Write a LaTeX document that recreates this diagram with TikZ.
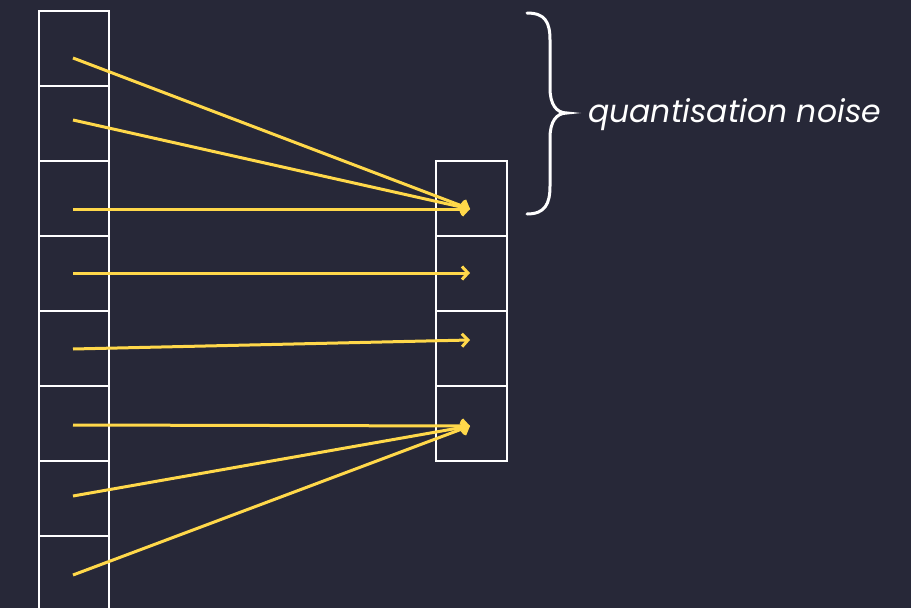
\documentclass[tikz,border=0pt]{standalone}
\usepackage{fontspec}
\setmainfont{Poppins}
\usetikzlibrary{arrows.meta}
\definecolor{bg}{HTML}{272838}
\definecolor{ylw}{HTML}{FFD84A}
\begin{document}
\begin{tikzpicture}[x=1pt,y=-1pt,
  cell/.style={draw=white,line width=1.6pt,minimum width=70pt,minimum height=75pt,inner sep=0pt,anchor=north west},
  arr/.style={draw=ylw,line width=3pt,-{Straight Barb[length=6pt,width=13pt,line width=3pt]}}]
\fill[bg] (0,0) rectangle (911,608);
\useasboundingbox (0,0) rectangle (911,608);
\foreach \i in {1,...,8}{
  \node[cell] (L\i) at (38,{10+75*(\i-1)}) {};
}
\foreach \i in {1,...,4}{
  \node[cell,minimum width=71pt] (R\i) at (435,{160+75*(\i-1)}) {};
}
\coordinate (a1) at (73,58);
\coordinate (a2) at (73,120);
\coordinate (a3) at (73,209);
\coordinate (a4) at (73,273);
\coordinate (a5) at (73,349);
\coordinate (a6) at (73,425);
\coordinate (a7) at (73,496);
\coordinate (a8) at (73,575);
\coordinate (b1) at (470,209);
\coordinate (b2) at (470,273);
\coordinate (b3) at (470,340);
\coordinate (b4) at (470,426);
\draw[arr] (a1) -- (b1);
\draw[arr] (a2) -- (b1);
\draw[arr] (a3) -- (b1);
\draw[arr] (a4) -- (b2);
\draw[arr] (a5) -- (b3);
\draw[arr] (a6) -- (b4);
\draw[arr] (a7) -- (b4);
\draw[arr] (a8) -- (b4);
\coordinate (bt) at (527,13);
\coordinate (bb) at (527,214);
\coordinate (tip) at (567,113);
\draw[white,line width=3pt,line cap=round] (bt) .. controls (545,13) and (550,22) .. (550,40)
  -- (550,88) .. controls (550,104) and (556,113) .. (tip)
  .. controls (556,113) and (550,122) .. (550,138)
  -- (550,186) .. controls (550,204) and (545,214) .. (bb);
\node[anchor=base west,inner sep=0pt,text=white,font=\fontsize{31.5}{36}\selectfont\itshape] (lbl) at (588,122) {quantisation noise};
\end{tikzpicture}
\end{document}
